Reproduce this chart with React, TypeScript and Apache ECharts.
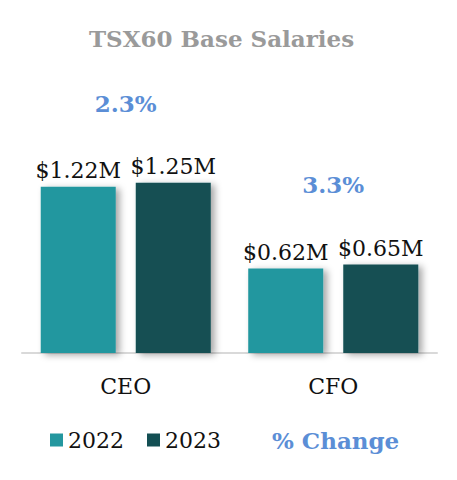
import React, { useEffect, useRef } from "react";
import * as echarts from "echarts";

const categories = ["CEO", "CFO"];
const years = ["2022", "2023"];
const salaries2022 = [1.22, 0.62];
const salaries2023 = [1.25, 0.65];
const percentChange = ["2.3%", "3.3%"];

const FONT = "DejaVu Serif";
const TEAL = "#24979f";
const DARK = "#134f53";
const BLUE = "#5b8ed6";

export default function App() {
  const ref = useRef<HTMLDivElement>(null);

  useEffect(() => {
    if (!ref.current) return;
    const chart = echarts.init(ref.current, null, { renderer: "svg" });
    const shadow = {
      shadowBlur: 7,
      shadowColor: "rgba(0,0,0,0.35)",
      shadowOffsetX: 4,
      shadowOffsetY: 2,
    };
    const valueLabel = {
      show: true,
      position: "top",
      distance: 5,
      fontFamily: FONT,
      fontSize: 22,
      color: "#111",
      formatter: (p: any) => "$" + p.value.toFixed(2) + "M",
    };
    chart.setOption({
      animation: false,
      title: {
        text: "TSX60 Base Salaries",
        left: 84,
        top: 22,
        textStyle: {
          fontFamily: FONT,
          fontSize: 23,
          fontWeight: "bold",
          color: "#9a9a9a",
        },
      },
      legend: [
        {
          left: 45,
          top: 424,
          itemWidth: 13,
          itemHeight: 13,
          itemGap: 23,
          textStyle: { fontFamily: FONT, fontSize: 22, color: "#111" },
          data: [
            { name: years[0], icon: "rect" },
            { name: years[1], icon: "rect" },
          ],
        },
        {
          left: 249,
          top: 424,
          itemWidth: 13,
          itemHeight: 13,
          textStyle: { fontFamily: FONT, fontSize: 23, color: BLUE, fontWeight: "bold" },
          data: [
            {
              name: "% Change",
              icon: "rect",
              itemStyle: { opacity: 0 },
            },
          ],
        },
      ],
      grid: { left: 22, right: 20, top: 135, bottom: 127 },
      xAxis: {
        type: "category",
        data: categories,
        axisLine: { show: true, lineStyle: { color: "#d9d9d9", width: 2 } },
        axisTick: { show: false },
        axisLabel: { fontFamily: FONT, fontSize: 22, color: "#111", margin: 22 },
      },
      yAxis: {
        type: "value",
        min: 0,
        max: 1.6,
        show: false,
        splitLine: { show: false },
      },
      series: [
        {
          name: years[0],
          type: "bar",
          data: salaries2022,
          barWidth: 75,
          barGap: "26.7%",
          itemStyle: { color: TEAL, ...shadow },
          label: valueLabel,
        },
        {
          name: years[1],
          type: "bar",
          data: salaries2023,
          barWidth: 75,
          barGap: "26.7%",
          itemStyle: { color: DARK, ...shadow },
          label: valueLabel,
        },
        {
          name: "% Change",
          type: "scatter",
          symbolSize: 0,
          itemStyle: { color: BLUE, opacity: 1 },
          data: categories.map((c, i) => ({
            value: [c, Math.max(salaries2022[i], salaries2023[i])],
          })),
          label: {
            show: true,
            position: "top",
            distance: 68,
            fontFamily: FONT,
            fontSize: 23,
            fontWeight: "bold",
            color: BLUE,
            opacity: 1,
            formatter: (p: any) => percentChange[p.dataIndex],
          },
        },
      ],
    });
    return () => chart.dispose();
  }, []);

  return (
    <div
      ref={ref}
      style={{ position: "absolute", left: 0, top: 0, width: 457, height: 480, background: "#fff" }}
    />
  );
}
